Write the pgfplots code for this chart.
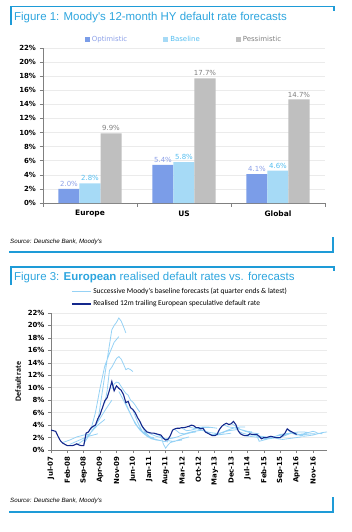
\documentclass[border=0pt]{standalone}
\usepackage{fontspec}
\setmainfont{DejaVu Sans}
\newfontfamily\arialf{Liberation Sans}
\newfontfamily\calib{Carlito}
\usepackage{pgfplots}
\pgfplotsset{compat=1.18}
\definecolor{dbblue}{RGB}{30,155,215}
\definecolor{titleblue}{RGB}{45,165,222}
\definecolor{optc}{RGB}{123,157,232}
\definecolor{basec}{RGB}{166,218,246}
\definecolor{pesc}{RGB}{191,191,191}
\definecolor{optl}{RGB}{140,160,232}
\definecolor{basel}{RGB}{85,190,240}
\definecolor{pesl}{RGB}{128,128,128}
\definecolor{gridc}{RGB}{235,235,235}
\definecolor{axc}{RGB}{128,128,128}
\definecolor{realc}{RGB}{20,40,140}
\definecolor{fcc}{RGB}{150,210,245}
\newcommand{\tks}{\bfseries\fontsize{7}{8}\selectfont}
\begin{document}
\begin{tikzpicture}
\path[use as bounding box] (0,0) rectangle (352bp,-532bp);
% ---------- frames and titles
\draw[dbblue, line width=1.2bp] (11bp,-25bp) -- (11bp,-6.5bp) -- (334bp,-6.5bp) -- (334bp,-11bp);
\node[anchor=west, text=titleblue, font=\arialf\fontsize{11.5}{12}\selectfont, inner sep=0pt] at (14bp,-18bp) {Figure 1: Moody's 12-month HY default rate forecasts};
\node[anchor=west, font=\arialf\itshape\fontsize{6.2}{7}\selectfont, inner sep=0pt] at (10bp,-242bp) {Source: Deutsche Bank, Moody's};
\draw[dbblue, line width=1.2bp] (9bp,-252bp) -- (333bp,-252bp) -- (333bp,-237bp);
\draw[dbblue, line width=1.2bp] (11bp,-285bp) -- (11bp,-267bp) -- (334bp,-267bp) -- (334bp,-271bp);
\node[anchor=west, text=titleblue, font=\arialf\fontsize{11.5}{12}\selectfont, inner sep=0pt] at (14bp,-278bp) {Figure 3: \textbf{European} realised default rates vs. forecasts};
\node[anchor=west, font=\arialf\itshape\fontsize{6.2}{7}\selectfont, inner sep=0pt] at (10bp,-501bp) {Source: Deutsche Bank, Moody's};
\draw[dbblue, line width=1.2bp] (9bp,-512bp) -- (333bp,-512bp) -- (333bp,-497bp);
% ---------- Figure 1
\begin{axis}[
 at={(43bp,-203bp)}, anchor=south west, scale only axis, width=282bp, height=155bp,
 ybar=0pt, bar width=21bp,
 xmin=-0.5, xmax=2.5, ymin=0, ymax=22,
 axis x line*=bottom, axis y line*=left,
 axis line style={axc, line width=0.6bp},
 xtick={-0.5,0.5,1.5,2.5}, xticklabels={},
 extra x ticks={0,1,2}, extra x tick labels={Europe,US,Global},
 extra x tick style={major tick length=0pt, grid=none},
 ytick={0,2,...,22}, yticklabel={\pgfmathprintnumber{\tick}\%},
 ymajorgrids, grid style={gridc, line width=0.6bp},
 tick align=outside, major tick length=3.5bp,
 tick style={axc, line width=0.6bp},
 tick label style={font=\tks},
 xticklabel style={font=\bfseries\fontsize{7.5}{8}\selectfont, yshift=-4bp},
 /pgf/number format/assume math mode=true,
 legend style={at={(0.5,1)}, anchor=south, yshift=3bp, draw=none, fill=none,
   font=\fontsize{7}{8}\selectfont, /tikz/every even column/.append style={column sep=34bp}, inner sep=0pt},
 legend columns=3,
 nodes near coords={\pgfmathprintnumber[fixed,fixed zerofill,precision=1]{\pgfplotspointmeta}\%},
 every node near coord/.append style={font=\fontsize{7}{8}\selectfont, inner sep=2bp},
]
\addplot[fill=optc, draw=none, every node near coord/.append style={text=optl},
  legend image code/.code={\fill[optc] (0bp,-2.5bp) rectangle (5bp,2.5bp);}]
  coordinates {(0,2.0) (1,5.4) (2,4.1)};
\addlegendentry{\textcolor{optl}{Optimistic}}
\addplot[fill=basec, draw=none, every node near coord/.append style={text=basel},
  legend image code/.code={\fill[basec] (0bp,-2.5bp) rectangle (5bp,2.5bp);}]
  coordinates {(0,2.8) (1,5.8) (2,4.6)};
\addlegendentry{\textcolor{basel}{Baseline}}
\addplot[fill=pesc, draw=none, every node near coord/.append style={text=pesl},
  legend image code/.code={\fill[pesc] (0bp,-2.5bp) rectangle (5bp,2.5bp);}]
  coordinates {(0,9.9) (1,17.7) (2,14.7)};
\addlegendentry{\textcolor{pesl}{Pessimistic}}
\end{axis}
% ---------- Figure 3
\begin{axis}[
 at={(51bp,-450bp)}, anchor=south west, scale only axis, width=276bp, height=137bp,
 xmin=0, xmax=118, ymin=0, ymax=22,
 axis x line*=bottom, axis y line*=left, axis line style={axc, line width=0.6bp},
 xtick={0,7,...,112},
 xticklabels={Jul-07,Feb-08,Sep-08,Apr-09,Nov-09,Jun-10,Jan-11,Aug-11,Mar-12,Oct-12,May-13,Dec-13,Jul-14,Feb-15,Sep-15,Apr-16,Nov-16},
 xticklabel style={rotate=90, anchor=east},
 ytick={0,2,...,22}, yticklabel={\pgfmathprintnumber{\tick}\%},
 ymajorgrids, grid style={gridc, line width=0.6bp},
 tick align=outside, major tick length=3bp, tick style={axc, line width=0.6bp},
 tick label style={font=\tks},
 /pgf/number format/assume math mode=true,
 ylabel={Default rate},
 every axis y label/.style={at={(axis description cs:-0.119,0.5)}, rotate=90, anchor=center, font=\calib\bfseries\fontsize{8}{9}\selectfont},
 legend style={at={(0.0725,1.197)}, anchor=north west, draw=none, fill=none, inner sep=0pt,
   font=\calib\fontsize{7.5}{8}\selectfont, row sep=1.5bp},
 legend cell align=left,
 legend image code/.code={\draw[#1] (0bp,0bp) -- (19bp,0bp);},
 unbounded coords=jump,
]
\addplot[fcc, line width=0.8bp] table {
x y
5 1.2
8 1.6
11 2.1
14 2.4
17 2.6
17 nan
8 0.9
11 1.4
14 1.9
17 2.3
20 2.6
20 nan
11 0.8
14 1.6
17 2.8
20 4.0
23 4.9
23 nan
14 1.0
17 2.8
20 4.5
23 6.3
26 8.0
26 nan
17 3.2
19 6.0
21 10.0
23 13.5
25 15.5
27 17.3
29 18.2
29 nan
20 4.5
22 9.5
24 14.5
26 19.3
27 20.0
28 20.5
29 21.2
30 20.7
31 19.8
32 18.8
32 nan
23 7.5
24 9.5
25 12.8
26 13.3
27 14.0
28 14.7
29 15.0
30 14.6
31 13.8
32 12.9
33 13.1
34 12.9
35 12.6
35 nan
26 9.8
27 10.6
28 10.9
29 10.8
30 10.2
31 9.6
32 9.1
33 8.8
34 8.0
35 7.7
36 7.2
37 6.6
38 6.1
38 nan
29 9.4
31 8.0
33 6.5
35 5.0
37 3.8
39 3.0
41 2.5
41 nan
32 7.5
34 5.8
36 4.2
38 3.2
40 2.5
42 2.1
44 2.0
44 nan
35 6.4
37 4.5
39 3.0
41 2.2
43 1.8
45 1.6
47 1.5
47 nan
38 4.5
40 3.0
42 2.2
44 1.8
46 1.6
48 1.4
50 1.3
50 nan
41 2.9
43 2.5
45 2.2
47 2.0
49 1.8
51 1.9
53 2.0
53 nan
44 2.7
46 2.4
48 2.0
50 1.5
52 1.4
54 1.5
56 1.6
56 nan
47 2.3
48 1.0
49 0.3
50 0.8
51 1.2
53 1.4
55 1.7
57 1.9
59 2.1
59 nan
50 1.8
52 1.9
54 2.1
56 2.4
58 2.6
60 2.8
62 2.9
62 nan
53 3.3
55 2.7
57 2.6
59 2.8
61 3.0
63 3.1
65 3.2
65 nan
56 3.5
58 3.1
60 3.2
62 3.4
64 3.5
66 3.6
68 3.6
68 nan
59 3.7
61 3.5
63 3.6
65 3.7
67 3.7
69 3.6
71 3.5
71 nan
62 3.5
64 3.2
66 3.0
68 2.8
70 2.7
72 2.7
74 2.8
74 nan
65 3.4
67 2.7
69 2.4
71 2.4
73 2.5
75 2.6
77 2.7
77 nan
68 2.5
70 2.5
72 2.7
74 2.9
76 3.1
78 3.2
80 3.3
80 nan
71 2.4
73 2.8
75 3.1
77 3.4
79 3.6
81 3.7
83 3.7
83 nan
74 4.0
76 3.7
78 3.6
80 3.4
82 3.2
84 3.0
86 2.9
86 nan
77 4.3
79 3.8
81 3.3
83 3.0
85 2.8
87 2.7
89 2.6
89 nan
80 3.0
82 2.7
84 2.5
86 2.4
88 2.3
90 2.2
92 2.1
92 nan
83 2.3
85 2.2
87 2.1
89 2.0
91 1.9
93 1.9
95 1.9
95 nan
86 2.5
88 2.3
89 1.4
91 1.6
93 1.8
95 1.9
98 2.0
98 nan
89 2.2
91 1.8
93 1.9
95 2.1
97 2.3
99 2.4
101 2.5
101 nan
92 2.0
94 2.0
96 2.2
98 2.5
100 2.6
102 2.7
104 2.7
104 nan
95 2.1
97 1.8
99 1.7
101 1.8
103 1.9
105 2.0
107 2.1
107 nan
98 2.0
100 2.3
102 2.6
104 2.8
106 2.9
108 2.9
110 2.8
110 nan
101 3.3
103 2.7
105 2.4
107 2.4
109 2.5
111 2.6
113 2.6
113 nan
104 2.7
106 2.5
108 2.6
110 2.8
112 3.0
113 2.9
114 2.7
116 2.6
116 nan
106 2.4
108 2.2
110 2.3
112 2.4
114 2.6
116 2.8
118 2.9
};
\addlegendentry{Successive Moody's baseline forecasts (at quarter ends \& latest)}
\addplot[realc, line width=1.1bp] table {
x y
0 3.2
1 3.1
2 3.0
3 2.2
4 1.5
5 1.1
6 0.9
7 0.7
8 0.7
9 0.7
10 0.8
11 1.0
12 0.8
13 0.7
14 0.7
15 2.7
16 2.9
17 3.5
18 3.8
19 4.0
20 5.0
21 5.7
22 6.8
23 7.9
24 8.4
25 9.6
26 11.0
27 9.5
28 10.3
29 9.9
30 9.6
31 8.9
32 7.6
33 7.8
34 6.8
35 6.5
36 6.0
37 5.2
38 4.6
39 3.8
40 3.3
41 2.9
42 2.8
43 2.7
44 2.7
45 2.6
46 2.5
47 2.4
48 1.9
49 1.6
50 1.7
51 2.3
52 3.2
53 3.4
54 3.5
55 3.5
56 3.6
57 3.6
58 3.7
59 3.8
60 4.0
61 3.9
62 3.6
63 3.6
64 3.4
65 3.5
66 2.9
67 2.7
68 2.5
69 2.3
70 2.3
71 2.5
72 3.3
73 3.8
74 4.1
75 4.3
76 4.1
77 4.2
78 4.6
79 4.1
80 3.1
81 2.6
82 2.4
83 2.3
84 2.3
85 2.6
86 2.5
87 2.5
88 2.5
89 2.2
90 1.8
91 2.0
92 2.0
93 2.1
94 2.2
95 2.1
96 2.0
97 2.0
98 2.0
99 2.3
100 2.7
101 3.4
102 3.1
103 2.9
104 2.7
105 2.5
};
\addlegendentry{Realised 12m trailing European speculative default rate}
\end{axis}
\end{tikzpicture}
\end{document}
